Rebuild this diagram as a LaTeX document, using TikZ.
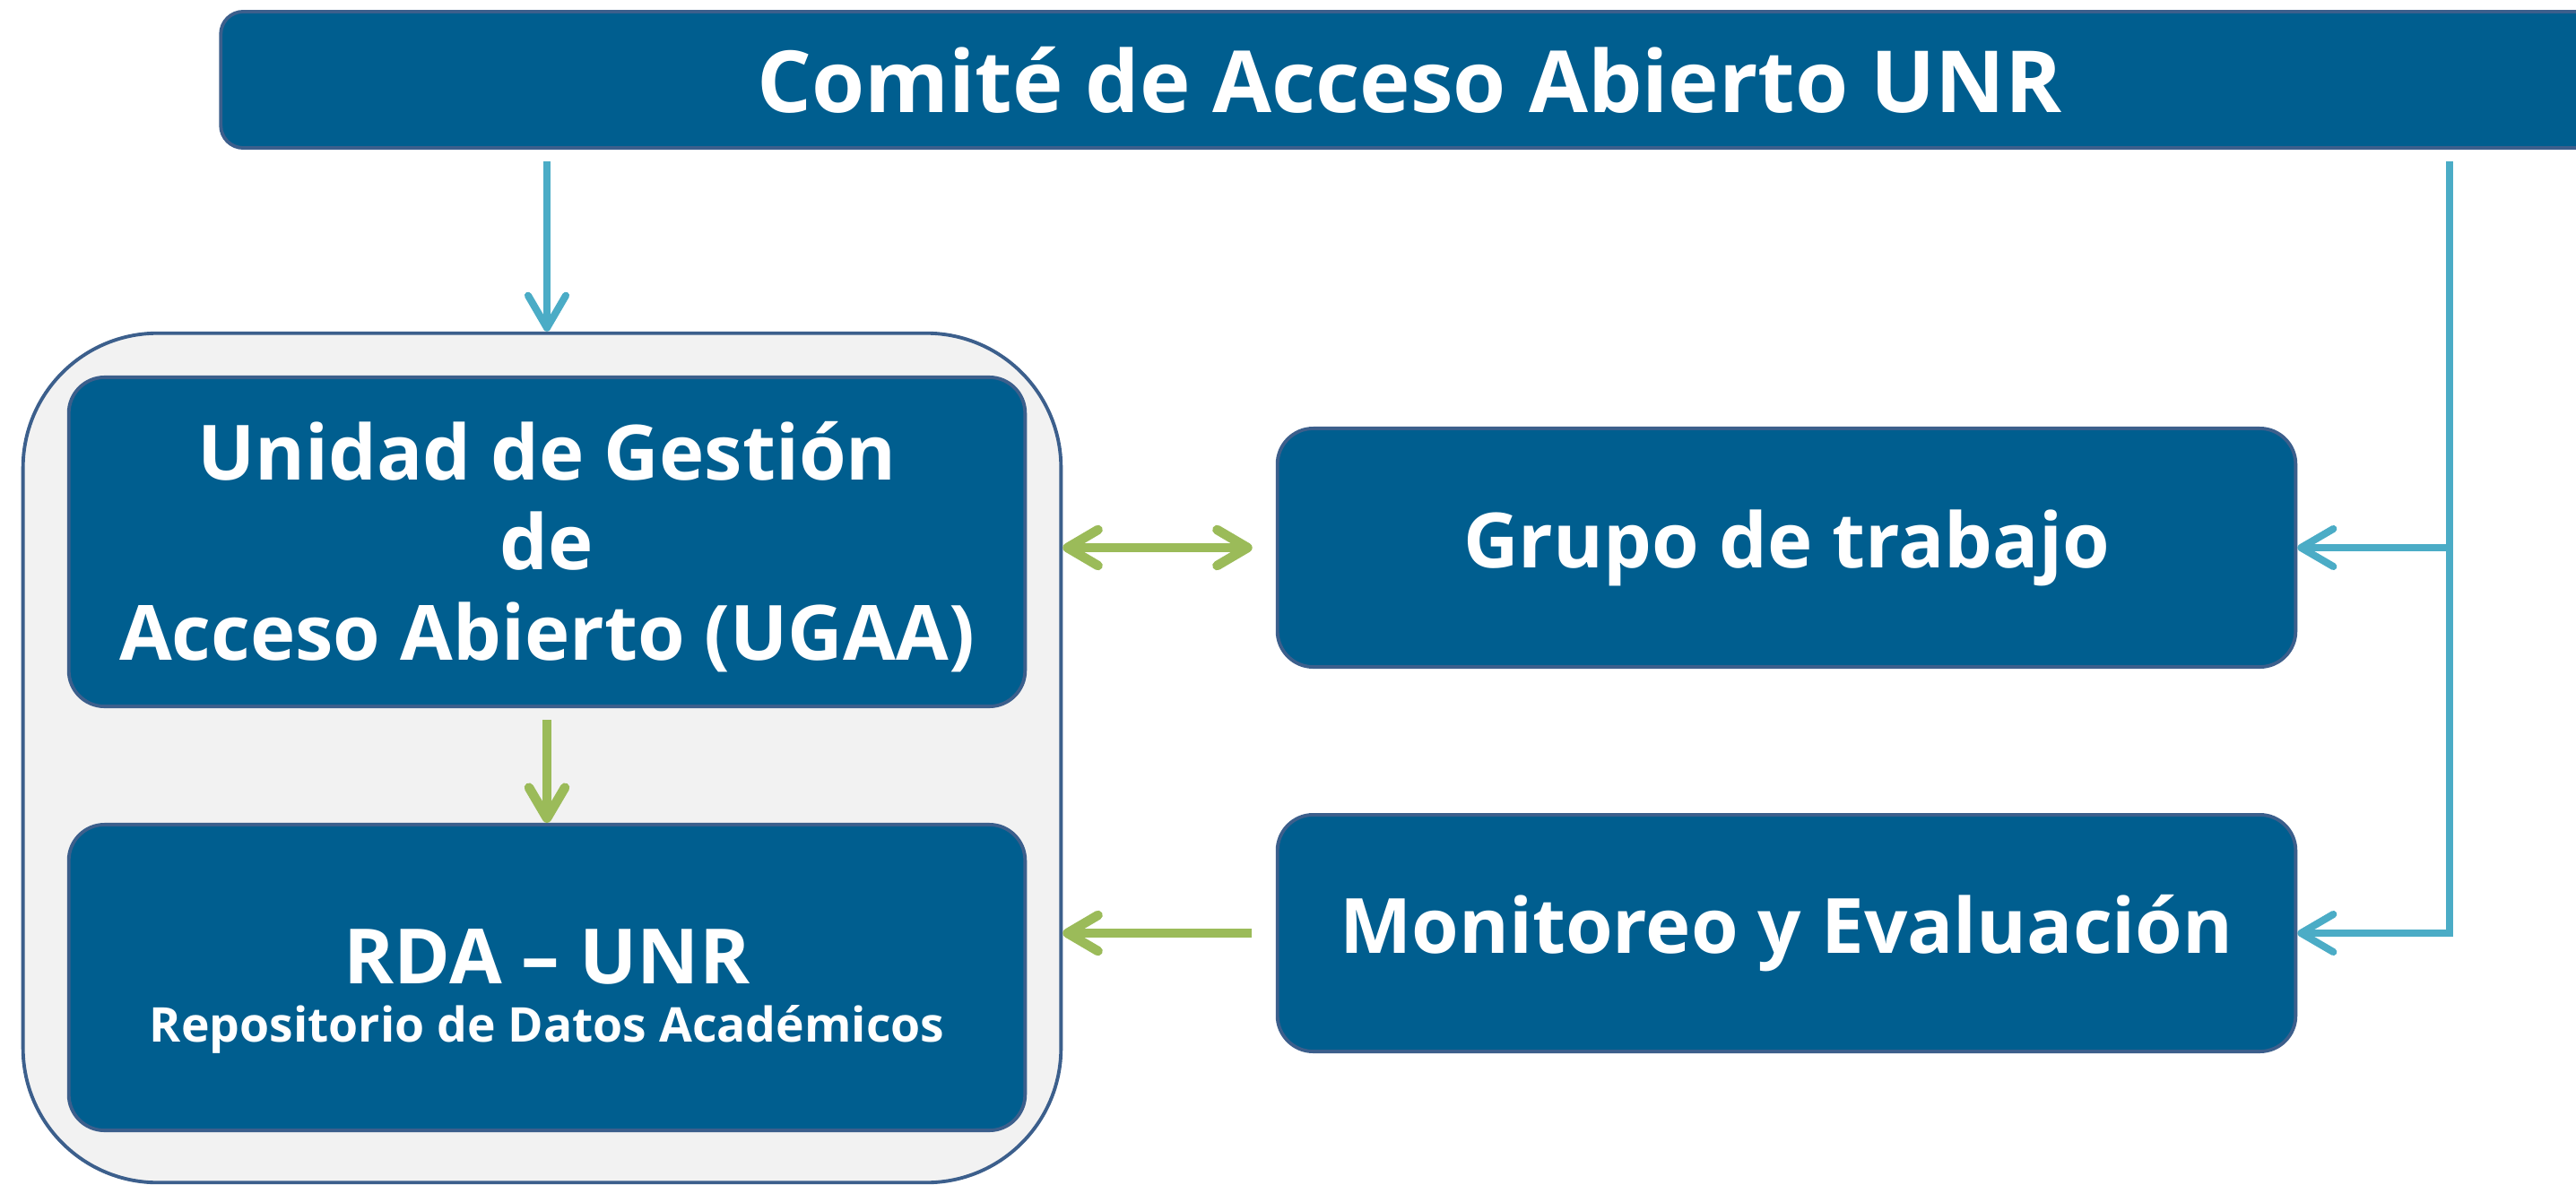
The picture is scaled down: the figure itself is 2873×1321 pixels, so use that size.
\documentclass[tikz,border=0pt]{standalone}
\usepackage{fontspec}
\setmainfont{Open Sans}
\usetikzlibrary{arrows.meta}

\definecolor{azulcaja}{HTML}{005E8F}
\definecolor{bordecaja}{HTML}{3C5F8C}
\definecolor{celeste}{HTML}{4BACC6}
\definecolor{verdeflecha}{HTML}{9BBB59}
\definecolor{grisfondo}{HTML}{F2F2F2}

\begin{document}
\begin{tikzpicture}[
    x=0.01cm, y=-0.01cm,
    caja/.style={draw=bordecaja, fill=azulcaja, line width=1.1pt, rounded corners=0.4cm,
        text=white, align=center, inner sep=0pt,
        font=\bfseries\fontsize{24.2}{28.5}\selectfont},
    marco/.style={draw=bordecaja, fill=grisfondo, line width=1.1pt, rounded corners=1.5cm, inner sep=0pt},
    flechaazul/.style={draw=celeste, line width=2.3pt,
        -{Straight Barb[length=0.36cm, width=0.42cm, round]}},
    flechaverde/.style={draw=verdeflecha, line width=3pt,
        -{Straight Barb[length=0.34cm, width=0.4cm, round]}},
    doble/.style={draw=verdeflecha, line width=3pt,
        {Straight Barb[length=0.34cm, width=0.4cm, round]}-{Straight Barb[length=0.34cm, width=0.4cm, round]}}
]
\useasboundingbox (0,0) rectangle (2873,1321);

% Comite
\node[caja, rounded corners=0.25cm, minimum width=26.5cm, minimum height=1.52cm,
    font=\bfseries\fontsize{27.2}{32}\selectfont] (comite) at (1572,89) {Comité de Acceso Abierto UNR};

% Contenedor UGAA + RDA
\node[marco, minimum width=11.57cm, minimum height=9.47cm] (contenedor) at (604.5,845.5) {};
\node[caja, minimum width=10.66cm, minimum height=3.67cm] (ugaa) at (610,604.5)
    {\rule{0pt}{0.76cm}Unidad de Gestión\\de\\Acceso Abierto (UGAA)};
\node[caja, minimum width=10.66cm, minimum height=3.41cm] (rda) at (610,1090.5)
    {\rule{0pt}{0.92cm}RDA – UNR\\[-10pt]{\fontsize{15.2}{18}\selectfont Repositorio de Datos Académicos}};

% Cajas de la derecha
\node[caja, minimum width=11.35cm, minimum height=2.66cm] (grupo) at (1992.5,611) {Grupo de trabajo};
\node[caja, minimum width=11.35cm, minimum height=2.64cm] (monitoreo) at (1992.5,1041) {Monitoreo y Evaluación};

% Conexiones
\coordinate (bajada) at (610,180);
\coordinate (derecha) at (2732,180);
\draw[flechaazul] (bajada) -- (bajada |- contenedor.north);
\draw[flechaazul] (derecha) |- (monitoreo.east);
\draw[flechaazul] (derecha |- grupo) -- (grupo.east);

\draw[flechaverde, shorten <=0.13cm] (ugaa.south) -- (rda.north);
\draw[doble, shorten >=0.26cm] (contenedor.east |- grupo) -- (grupo.west);
\draw[flechaverde, shorten <=0.27cm] (monitoreo.west) -- (contenedor.east |- monitoreo);
\end{tikzpicture}
\end{document}
